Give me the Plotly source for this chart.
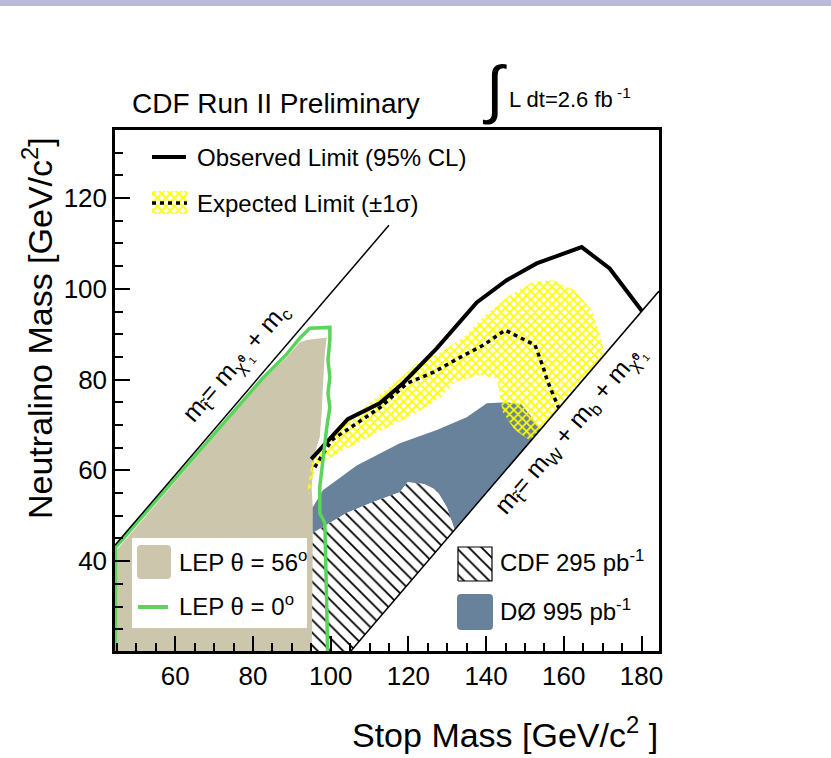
import plotly.graph_objects as go

# ---------------- data (GeV/c^2) ----------------
X_RANGE = [44.5, 184.5]
Y_RANGE = [20.2, 135.0]
X_TICKS = [60, 80, 100, 120, 140, 160, 180]
Y_TICKS = [40, 60, 80, 100, 120]

# Observed limit (95% CL)
OBS_X = [95.0, 104.4, 112.6, 118.6, 127.3, 137.6, 145.3, 153.0, 164.6, 171.8, 180.1]
OBS_Y = [62.5, 71.3, 74.8, 79.2, 86.9, 97.0, 101.9, 105.6, 109.2, 104.5, 95.1]

# Expected limit
EXP_X = [95.9, 100.3, 106.8, 112.8, 119.7, 126.4, 133.3, 139.3, 144.9, 152.6, 154.7, 155.7, 158.7]
EXP_Y = [60.7, 66.7, 70.4, 73.9, 79.2, 81.6, 84.9, 87.6, 90.9, 87.6, 82.7, 79.9, 73.7]

# Expected +-1 sigma band (closed contour)
BAND_X = [94.1, 95.1, 99.8, 104.9, 111.4, 117.9, 122.2, 128.2, 134.6, 139.7, 146.1, 152.0,
          157.2, 162.8, 167.2, 169.3, 170.6, 151.5, 147.4, 144.3, 143.5, 142.8, 138.4,
          131.9, 128.1, 121.1, 112.1, 102.3, 97.2, 95.1, 94.6]
BAND_Y = [56.1, 61.8, 66.7, 71.1, 75.9, 80.3, 83.6, 86.0, 89.6, 94.2, 98.6, 101.5,
          101.9, 99.7, 95.3, 89.8, 85.6, 66.5, 68.9, 72.8, 76.6, 80.3, 81.0,
          79.4, 75.9, 72.2, 68.4, 64.0, 61.6, 58.3, 54.5]

# D0 995 pb-1 excluded region
D0_X = [94.6, 95.4, 98.0, 106.7, 117.8, 127.3, 135.0, 140.2, 145.3, 149.0, 151.5, 154.0,
        131.9, 129.9, 127.3, 124.0, 119.8, 117.8, 110.8, 104.1, 95.4, 94.6]
D0_Y = [51.9, 51.9, 55.6, 61.1, 66.0, 68.9, 71.7, 74.8, 75.0, 74.6, 72.0, 69.0,
        46.9, 51.9, 55.6, 57.0, 57.4, 55.2, 53.0, 50.6, 46.2, 46.2]

# CDF 295 pb-1 excluded region
CDF_X = [94.6, 95.4, 104.1, 110.8, 117.8, 119.8, 124.0, 127.3, 129.9, 131.9, 100.0, 94.6]
CDF_Y = [46.2, 46.2, 50.6, 53.0, 55.2, 57.4, 57.0, 55.6, 51.9, 46.9, 15.0, 15.0]

# LEP theta = 56 deg excluded region
LEP56_X = [40.0, 40.0, 82.5, 88.7, 92.0, 93.8, 99.0, 98.5, 98.0, 97.7, 97.2, 95.9, 95.1, 95.4, 95.4, 95.1]
LEP56_Y = [15.0, 37.5, 79.9, 84.9, 88.2, 88.7, 89.3, 85.8, 78.3, 72.6, 67.3, 63.8, 56.3, 51.9, 44.6, 15.0]

# LEP theta = 0 deg limit
LEP0_X = [44.6, 44.6, 82.5, 88.7, 92.0, 94.6, 99.8, 99.8, 99.3, 99.8, 99.3, 99.8, 99.0,
          98.2, 97.2, 97.2, 98.5, 99.0, 99.3]
LEP0_Y = [15.0, 43.0, 80.3, 85.6, 89.1, 91.3, 91.5, 88.7, 84.3, 80.5, 77.0, 73.9, 69.5,
          63.8, 56.3, 50.6, 48.4, 29.9, 15.0]

# kinematic boundaries
CHARM_X = [44.5, 115.0]
CHARM_Y = [43.5, 114.0]
WB_X = [100.0, 184.5]
WB_Y = [15.0, 99.5]

FONT = "Liberation Sans"
BEIGE = "#ccc6ad"
BLUE = "#67829a"
GREEN = "#5ad45a"
YELLOW = "#ffff00"
HATCH = dict(shape="\\", fgcolor="black", bgcolor="white", fgopacity=1, size=9, solidity=0.2)
CROSS = dict(shape="x", fgcolor=YELLOW, fgopacity=1, size=6, solidity=0.5)

fig = go.Figure()

def poly(x, y, **kw):
    fig.add_trace(go.Scatter(x=x, y=y, mode="lines", fill="toself", line=dict(width=0),
                             hoverinfo="skip", showlegend=False, **kw))

poly(D0_X, D0_Y, fillcolor=BLUE)
poly(CDF_X, CDF_Y, fillcolor="white", fillpattern=HATCH)
poly(LEP56_X, LEP56_Y, fillcolor=BEIGE)
poly(BAND_X, BAND_Y, fillcolor="rgba(0,0,0,0)",
     fillpattern=dict(bgcolor="rgba(0,0,0,0)", **CROSS))

def line(x, y, **kw):
    fig.add_trace(go.Scatter(x=x, y=y, mode="lines", hoverinfo="skip", showlegend=False, **kw))

line(EXP_X, EXP_Y, line=dict(color="black", width=3.5, dash="4px,4px"))
line(OBS_X, OBS_Y, line=dict(color="black", width=4))
line(LEP0_X, LEP0_Y, line=dict(color=GREEN, width=3.5))
line(CHARM_X, CHARM_Y, line=dict(color="black", width=1.5))
line(WB_X, WB_Y, line=dict(color="black", width=1.5))

# ---------- legend keys (overlay axis in plot-fraction units) ----------
def key_poly(x, y, **kw):
    fig.add_trace(go.Scatter(x=x, y=y, xaxis="x2", yaxis="y2", mode="lines", fill="toself",
                             hoverinfo="skip", showlegend=False, **kw))

u0, u1, v0, v1 = 0.068, 0.1324, 0.8388, 0.8829
key_poly([u0, u1, u1, u0, u0], [v0, v0, v1, v1, v0], line=dict(width=0), fillcolor="rgba(0,0,0,0)",
         fillpattern=dict(bgcolor="white", **CROSS))
fig.add_trace(go.Scatter(x=[u0, u1], y=[0.8599, 0.8599], xaxis="x2", yaxis="y2", mode="lines",
                         line=dict(color="black", width=3.5, dash="4px,4px"),
                         hoverinfo="skip", showlegend=False))
u0, u1, v0, v1 = 0.6305, 0.6930, 0.1344, 0.1996
key_poly([u0, u1, u1, u0, u0], [v0, v0, v1, v1, v0], line=dict(width=1.2, color="black"),
         fillcolor="white", fillpattern=HATCH)

def rrect(x0, x1, y0, y1, r=4):
    rx, ry = r / 544, r / 521
    return (f"M{x0+rx},{y0} L{x1-rx},{y0} Q{x1},{y0} {x1},{y0+ry} L{x1},{y1-ry} "
            f"Q{x1},{y1} {x1-rx},{y1} L{x0+rx},{y1} Q{x0},{y1} {x0},{y1-ry} "
            f"L{x0},{y0+ry} Q{x0},{y0} {x0+rx},{y0} Z")

shapes = [
    dict(type="rect", xref="paper", yref="paper", x0=-0.25, x1=1.35, y0=1.238, y1=1.30,
         fillcolor="#b9bcd9", line=dict(width=0), layer="above"),
    dict(type="line", xref="paper", yref="paper", x0=0.068, x1=0.1305, y0=0.948, y1=0.948,
         line=dict(color="black", width=4), layer="above"),
    dict(type="rect", xref="paper", yref="paper", x0=0.03125, x1=0.3529, y0=0.0441, y1=0.2169,
         fillcolor="white", line=dict(width=0), layer="above"),
    dict(type="path", xref="paper", yref="paper", path=rrect(0.0404, 0.1029, 0.1382, 0.2035),
         fillcolor=BEIGE, line=dict(width=0), layer="above"),
    dict(type="line", xref="paper", yref="paper", x0=0.0423, x1=0.0974, y0=0.0845, y1=0.0845,
         line=dict(color=GREEN, width=4), layer="above"),
    dict(type="path", xref="paper", yref="paper", path=rrect(0.6287, 0.6949, 0.0403, 0.1094),
         fillcolor=BLUE, line=dict(width=0), layer="above"),
]

def ann(text, x, y, size, xanchor="left", yanchor="middle", xref="paper", yref="paper", angle=0):
    return dict(text=text, x=x, y=y, xref=xref, yref=yref, xanchor=xanchor, yanchor=yanchor,
                showarrow=False, textangle=angle, font=dict(family=FONT, size=size, color="black"))

annotations = [
    ann("CDF Run II Preliminary", 0.0276, 1.050, 28),
    ann("∫", 0.6967, 1.078, 64, xanchor="center"),
    ann("L dt=2.6 fb<sup> -1</sup>", 0.7206, 1.062, 22),
    ann("Observed Limit (95% CL)", 0.147, 0.948, 24),
    ann("Expected Limit (±1σ)", 0.147, 0.858, 24),
    ann("LEP θ = 56<sup>o</sup>", 0.114, 0.172, 24),
    ann("LEP θ = 0<sup>o</sup>", 0.114, 0.088, 24),
    ann("CDF 295 pb<sup>-1</sup>", 0.704, 0.172, 24),
    ann("DØ 995 pb<sup>-1</sup>", 0.704, 0.078, 24),
    ann("Neutralino Mass [GeV/c<sup>2</sup>]", -0.1415, 0.62, 34, xanchor="center", angle=-90),
    ann("Stop Mass [GeV/c<sup>2</sup> ]", 1.002, -0.157, 34, xanchor="right"),
    ann("m<sub>t̃</sub>= m<sub>χ̃⁰₁</sub> + m<sub>c</sub>", 75.8, 83.6, 25,
        xanchor="center", xref="x", yref="y", angle=-49.4),
    ann("m<sub>t̃</sub>= m<sub>W</sub> + m<sub>b</sub> + m<sub>χ̃⁰₁</sub>", 161.6, 69.0, 25,
        xanchor="center", xref="x", yref="y", angle=-49.4),
]

axis_common = dict(ticks="inside", ticklen=15, tickwidth=1.5, tickcolor="black",
                   showline=True, linecolor="black", linewidth=2.5, mirror=True,
                   showgrid=False, zeroline=False,
                   tickfont=dict(family=FONT, size=26, color="black"))

fig.update_layout(
    width=831, height=758,
    margin=dict(l=115, r=172, t=130, b=107),
    paper_bgcolor="white", plot_bgcolor="white",
    xaxis=dict(range=X_RANGE, tickvals=X_TICKS,
               minor=dict(dtick=5, tick0=0, ticks="inside", ticklen=8, tickwidth=1.5, tickcolor="black"),
               **axis_common),
    yaxis=dict(range=Y_RANGE, tickvals=Y_TICKS,
               minor=dict(dtick=5, tick0=0, ticks="inside", ticklen=8, tickwidth=1.5, tickcolor="black"),
               **axis_common),
    xaxis2=dict(overlaying="x", range=[0, 1], visible=False),
    yaxis2=dict(overlaying="y", range=[0, 1], visible=False),
    shapes=shapes,
    annotations=annotations,
    showlegend=False,
)

fig.write_html("out.html")
